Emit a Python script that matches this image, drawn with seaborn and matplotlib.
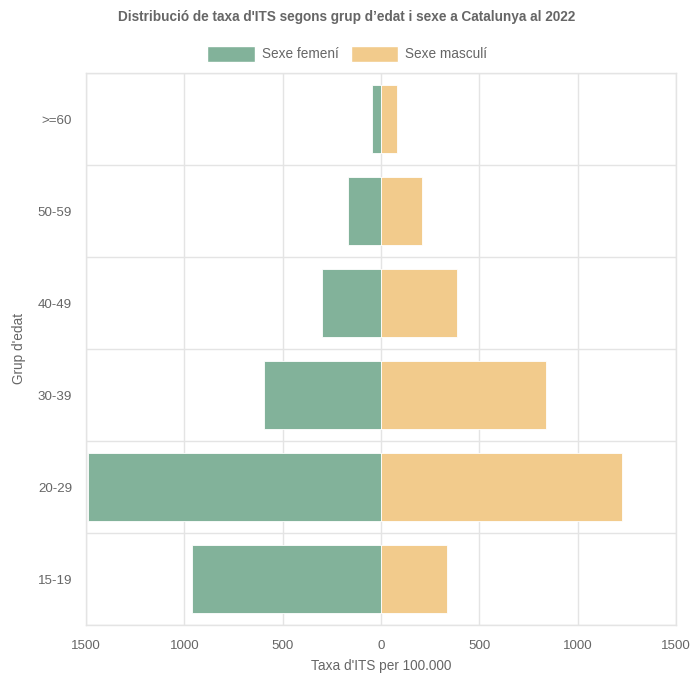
import numpy as np
import pandas as pd
import seaborn as sns
import matplotlib.pyplot as plt
from matplotlib.patches import Patch

grups = ['>=60', '50-59', '40-49', '30-39', '20-29', '15-19']
femeni = [47, 166, 300, 595, 1492, 963]
masculi = [83, 208, 384, 840, 1227, 338]
xticks = [-1500, -1000, -500, 0, 500, 1000, 1500]

verd = '#82b29a'
taronja = '#f2cb8c'
gris = '#666666'
linia = '#e4e4e4'

if __name__ == '__main__':
    df = pd.DataFrame({
        'Grup': grups * 2,
        'Taxa': [-v for v in femeni] + masculi,
        'Sexe': ['Sexe femení'] * len(grups) + ['Sexe masculí'] * len(grups),
    })

    sns.set_style('white')
    plt.rcParams['font.family'] = ['Liberation Sans', 'DejaVu Sans']

    fig = plt.figure(figsize=(6.94, 6.77), dpi=100)
    ax = fig.add_axes([86 / 694, 1 - 625 / 677, 590 / 694, 552 / 677])

    sns.barplot(data=df, x='Taxa', y='Grup', hue='Sexe', order=grups,
                palette=[verd, taronja], saturation=1, dodge=False, width=0.73,
                orient='h', ax=ax, legend=False, zorder=3)
    for p in ax.patches:
        p.set_edgecolor('#ffffff')
        p.set_linewidth(0.6)

    ax.set_xlim(-1500, 1500)
    ax.set_ylim(len(grups) - 0.5, -0.5)
    ax.set_xticks(xticks)
    ax.set_xticklabels([str(abs(t)) for t in xticks])
    ax.set_yticks(range(len(grups)))
    ax.set_yticks(np.arange(-0.5, len(grups), 1), minor=True)
    ax.tick_params(axis='y', which='major', length=0, pad=10, labelsize=9.6, labelcolor=gris)
    ax.tick_params(axis='y', which='minor', length=8, color=linia, width=1)
    ax.tick_params(axis='x', which='major', length=8, color=linia, width=1,
                   labelsize=9.6, labelcolor=gris, pad=3)
    ax.grid(True, axis='x', which='major', color=linia, linewidth=1, zorder=0)
    ax.grid(True, axis='y', which='minor', color=linia, linewidth=1, zorder=0)
    for s in ax.spines.values():
        s.set_color(linia)
        s.set_linewidth(1)
    ax.set_axisbelow(True)

    ax.set_xlabel("Taxa d'ITS per 100.000", color=gris, fontsize=9.8, labelpad=5)
    ax.set_ylabel("Grup d'edat", color=gris, fontsize=9.8, labelpad=8)

    fig.text(0.5, 1 - 17 / 677, "Distribució de taxa d'ITS segons grup d’edat i sexe a Catalunya al 2022",
             ha='center', va='center', fontsize=9.8, fontweight='bold', color=gris)

    handles = [Patch(facecolor=verd, edgecolor='white', label='Sexe femení'),
               Patch(facecolor=taronja, edgecolor='white', label='Sexe masculí')]
    fig.legend(handles=handles, loc='center', bbox_to_anchor=(0.5, 1 - 54 / 677), ncol=2,
               frameon=False, fontsize=9.8, labelcolor=gris, handlelength=3.5,
               handleheight=1.5, handletextpad=0.5, columnspacing=0.9)

    plt.savefig('out.png', dpi=100)
